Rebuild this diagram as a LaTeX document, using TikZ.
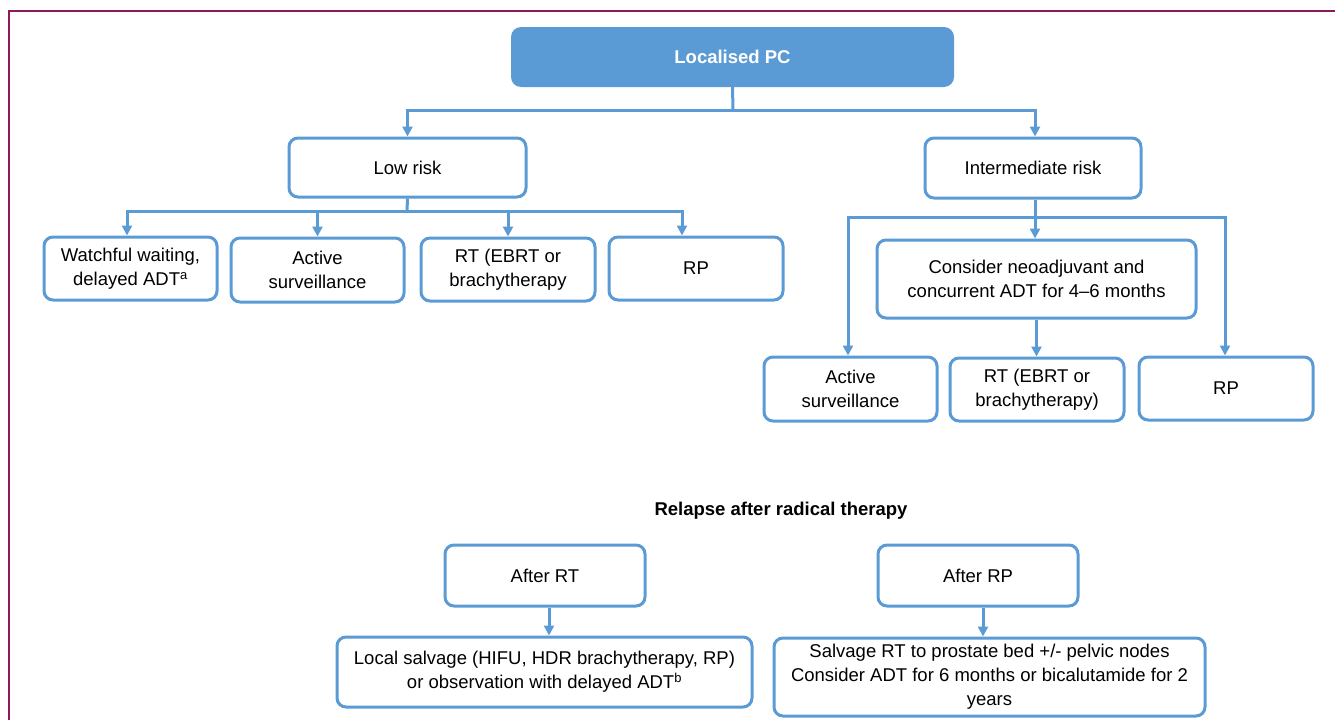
\documentclass[tikz,border=0pt]{standalone}
\usepackage{fontspec}
\setmainfont{Liberation Sans}
\usetikzlibrary{arrows.meta}
\definecolor{bblue}{RGB}{91,155,213}
\definecolor{maroonline}{RGB}{140,26,90}
\begin{document}
\begin{tikzpicture}[x=1pt,y=-1pt,
  every node/.style={font=\fontsize{18.5}{24}\selectfont, align=center, inner sep=0pt},
  boxnode/.style={draw=bblue, line width=3pt, rounded corners=9pt, fill=white},
  topnode/.style={fill=bblue, rounded corners=10pt, text=white, font=\fontsize{18.5}{24}\selectfont\bfseries},
  conn/.style={draw=bblue, line width=3pt},
  arr/.style={conn, -{Triangle[length=10pt,width=10pt]}}]
\useasboundingbox (0,0) rectangle (1335,720);
\draw[maroonline, line width=2.5pt] (9,720) -- (9,11) -- (1335,11);

\node[topnode, minimum width=443pt, minimum height=60pt] (lpc) at (732.5,57) {Localised PC};
\node[boxnode, minimum width=237pt, minimum height=59pt] (low) at (407.5,167.5) {Low risk};
\node[boxnode, minimum width=216pt, minimum height=60pt] (inter) at (1033,168) {Intermediate risk};

\node[boxnode, minimum width=173pt, minimum height=63pt] (ww) at (130.5,268.5) {Watchful waiting,\\ delayed ADT\textsuperscript{a}};
\node[boxnode, minimum width=173pt, minimum height=64pt] (as1) at (317.5,270) {Active\\ surveillance};
\node[boxnode, minimum width=174pt, minimum height=63pt] (rt1) at (508,269.5) {RT (EBRT or\\ brachytherapy};
\node[boxnode, minimum width=174pt, minimum height=63pt] (rp1) at (696,268.5) {RP};

\node[boxnode, minimum width=319pt, minimum height=78pt] (cons) at (1036.5,279) {Consider neoadjuvant and\\ concurrent ADT for 4–6 months};
\node[boxnode, minimum width=173pt, minimum height=64pt] (as2) at (850.5,389) {Active\\ surveillance};
\node[boxnode, minimum width=174pt, minimum height=63pt] (rt2) at (1037,389.5) {RT (EBRT or\\ brachytherapy)};
\node[boxnode, minimum width=174pt, minimum height=63pt] (rp2) at (1226,388.5) {RP};

\node[font=\fontsize{18.5}{24}\selectfont\bfseries] (rel) at (781,511) {Relapse after radical therapy};
\node[boxnode, minimum width=200pt, minimum height=61pt] (afrt) at (545,575.5) {After RT};
\node[boxnode, minimum width=200pt, minimum height=61pt] (afrp) at (978,575.5) {After RP};
\node[boxnode, minimum width=415pt, minimum height=70pt] (ls) at (544.5,672) {Local salvage (HIFU, HDR brachytherapy, RP)\\ or observation with delayed ADT\textsuperscript{b}};
\node[boxnode, minimum width=431pt, minimum height=78pt] (srt) at (989.5,677) {Salvage RT to prostate bed +/- pelvic nodes\\ Consider ADT for 6 months or bicalutamide for 2\\ years};

% connectors
\coordinate (j1) at (733,110);
\draw[conn] (lpc.south) -- (j1);
\draw[arr] (j1) -| (low.north);
\draw[arr] (j1) -| ([xshift=2pt]inter.north);

\coordinate (j2) at (407,211);
\draw[conn] (low.south) -- (j2);
\draw[arr] (j2) -| ([xshift=-3.5pt]ww.north);
\draw[arr] (j2) -| (as1.north);
\draw[arr] (j2) -| (rt1.north);
\draw[arr] (j2) -| ([xshift=-14pt]rp1.north);

\coordinate (j3) at (1035,217);
\draw[conn] (inter.south -| j3) -- (j3);
\draw[arr] (j3) -- (j3 |- cons.north);
\draw[arr] (j3) -| ([xshift=-2.5pt]as2.north);
\draw[arr] (j3) -| ([xshift=-1pt]rp2.north);
\draw[arr] (cons.south) -- (cons.south |- rt2.north);

\draw[arr] ([xshift=4pt]afrt.south) -- ([xshift=4pt]afrt.south |- ls.north);
\draw[arr] ([xshift=5pt]afrp.south) -- ([xshift=5pt]afrp.south |- srt.north);
\end{tikzpicture}
\end{document}
